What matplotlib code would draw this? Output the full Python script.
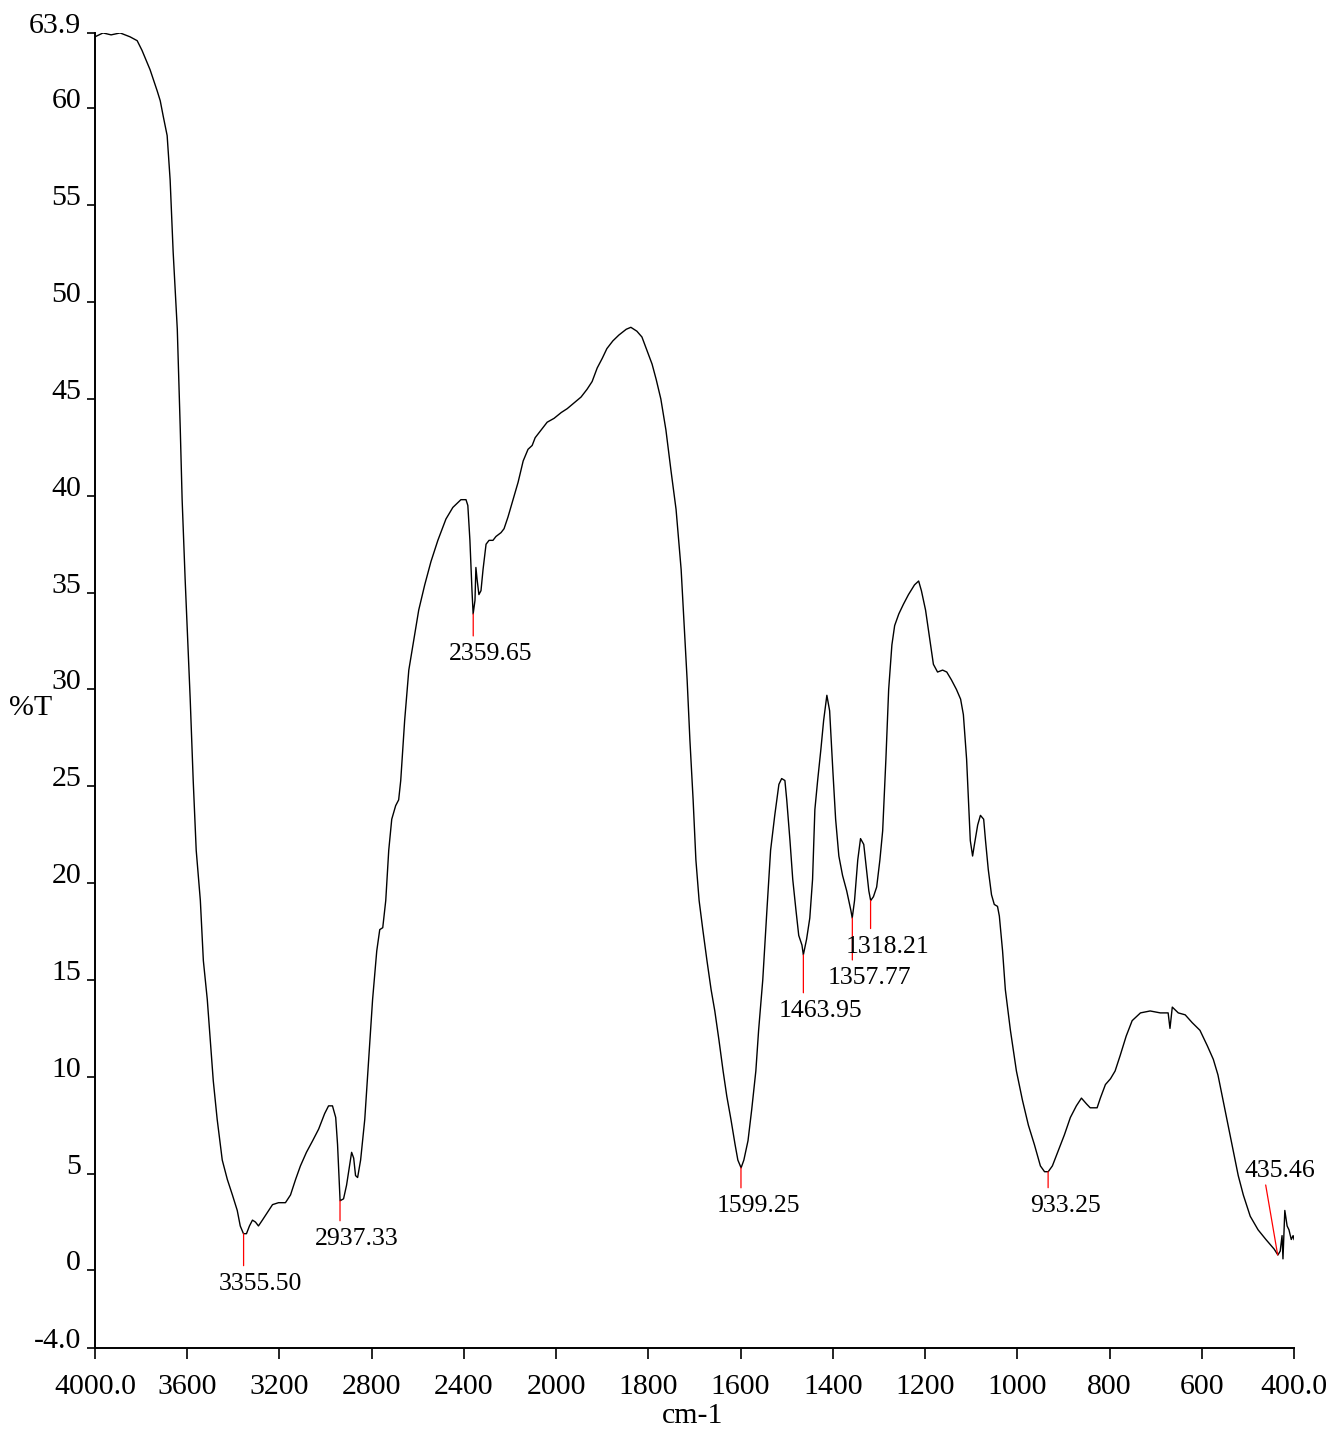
import numpy as np
import matplotlib
matplotlib.use("Agg")
import matplotlib.pyplot as plt

# FT-IR spectrum, values
wavenumber = [
    4000, 3965, 3930, 3891, 3848, 3817, 3796, 3761, 3730, 3717, 3704, 3687, 3674,
    3661, 3643, 3630, 3622, 3609, 3596, 3587, 3574, 3561, 3543, 3530, 3513,
    3500, 3487, 3470, 3448, 3426, 3404, 3383, 3370, 3356, 3343, 3330, 3317,
    3304, 3291, 3274, 3252, 3230, 3204, 3174, 3152, 3130, 3109, 3083, 3056,
    3030, 3004, 2987, 2970, 2956, 2948, 2941, 2937, 2922, 2909, 2896, 2887,
    2878, 2870, 2861, 2848, 2830, 2813, 2796, 2778, 2765, 2752, 2739, 2726,
    2713, 2696, 2683, 2674, 2657, 2639, 2617, 2596, 2570, 2543, 2513, 2478,
    2448, 2413, 2391, 2383, 2374, 2365, 2360, 2352, 2348, 2343, 2335, 2326,
    2317, 2304, 2291, 2274, 2261, 2239, 2226, 2209, 2187, 2165, 2143, 2122,
    2104, 2091, 2065, 2039, 2009, 1989, 1976, 1961, 1946, 1933, 1922, 1911,
    1900, 1890, 1877, 1864, 1848, 1838, 1825, 1814, 1803, 1792, 1783, 1773,
    1762, 1751, 1740, 1729, 1723, 1716, 1710, 1703, 1697, 1690, 1682, 1673,
    1664, 1656, 1647, 1638, 1630, 1621, 1612, 1606, 1599, 1593, 1584, 1576,
    1567, 1561, 1552, 1543, 1535, 1526, 1517, 1511, 1504, 1500, 1493, 1487,
    1480, 1474, 1467, 1464, 1457, 1450, 1444, 1439, 1433, 1426, 1420, 1413,
    1407, 1400, 1394, 1387, 1379, 1370, 1361, 1358, 1353, 1346, 1340, 1333,
    1327, 1322, 1318, 1312, 1305, 1298, 1292, 1285, 1279, 1272, 1266, 1257,
    1247, 1236, 1223, 1214, 1208, 1199, 1190, 1182, 1173, 1162, 1153, 1143,
    1132, 1123, 1117, 1110, 1106, 1102, 1097, 1093, 1086, 1080, 1073, 1069,
    1063, 1056, 1050, 1043, 1039, 1032, 1026, 1015, 1002, 989, 976, 963,
    950, 941, 933, 924, 911, 898, 885, 872, 861, 850, 842, 827,
    820, 809, 798, 788, 777, 764, 751, 733, 712, 690, 673, 669,
    664, 651, 636, 621, 604, 588, 575, 565, 554, 543, 532, 521,
    510, 495, 478, 461, 443, 435, 430, 426, 424, 420, 415, 411,
    406, 402, 400,
]
transmittance = [
    63.7, 63.9, 63.8, 63.9, 63.7, 63.5, 63.0, 62.0, 60.9, 60.4, 59.6, 58.6, 56.3,
    52.6, 48.6, 43.4, 39.8, 35.7, 32.0, 29.5, 25.3, 21.7, 19.1, 16.0, 14.0,
    11.9, 9.8, 7.8, 5.7, 4.7, 3.9, 3.1, 2.3, 1.9, 1.9, 2.3, 2.6,
    2.5, 2.3, 2.6, 3.0, 3.4, 3.5, 3.5, 3.9, 4.7, 5.4, 6.1, 6.7,
    7.3, 8.1, 8.5, 8.5, 7.9, 6.5, 4.7, 3.6, 3.7, 4.4, 5.4, 6.1,
    5.8, 4.9, 4.8, 5.7, 7.8, 10.9, 14.0, 16.5, 17.6, 17.7, 19.1, 21.7,
    23.3, 24.0, 24.3, 25.3, 28.4, 31.0, 32.6, 34.1, 35.4, 36.6, 37.7, 38.8,
    39.4, 39.8, 39.8, 39.5, 37.7, 35.1, 33.9, 34.6, 36.3, 35.7, 34.9, 35.1,
    36.2, 37.5, 37.7, 37.7, 37.9, 38.1, 38.3, 38.9, 39.8, 40.7, 41.8, 42.4,
    42.6, 43.0, 43.4, 43.8, 44.0, 44.3, 44.5, 44.8, 45.1, 45.5, 45.9, 46.6,
    47.1, 47.6, 48.0, 48.3, 48.6, 48.7, 48.5, 48.2, 47.5, 46.8, 46.0, 45.0,
    43.4, 41.3, 39.3, 36.2, 33.6, 30.5, 27.4, 24.3, 21.2, 19.1, 17.6, 16.0,
    14.5, 13.4, 11.9, 10.3, 9.0, 7.8, 6.5, 5.7, 5.3, 5.7, 6.7, 8.3,
    10.3, 12.4, 15.0, 18.6, 21.7, 23.5, 25.1, 25.4, 25.3, 24.3, 22.2, 20.2,
    18.6, 17.3, 16.8, 16.3, 17.1, 18.2, 20.2, 23.8, 25.3, 26.9, 28.4, 29.7,
    28.9, 25.8, 23.3, 21.4, 20.4, 19.6, 18.6, 18.2, 19.1, 21.2, 22.3, 22.0,
    20.7, 19.6, 19.1, 19.3, 19.8, 21.2, 22.7, 26.4, 30.0, 32.3, 33.3, 33.9,
    34.4, 34.9, 35.4, 35.6, 35.1, 34.1, 32.6, 31.3, 30.9, 31.0, 30.9, 30.5,
    30.0, 29.5, 28.7, 26.4, 24.3, 22.2, 21.4, 22.0, 23.0, 23.5, 23.3, 22.2,
    20.7, 19.4, 18.9, 18.8, 18.3, 16.5, 14.5, 12.4, 10.3, 8.8, 7.5, 6.5,
    5.4, 5.1, 5.1, 5.4, 6.2, 7.0, 7.9, 8.5, 8.9, 8.6, 8.4, 8.4,
    8.9, 9.6, 9.9, 10.3, 11.1, 12.1, 12.9, 13.3, 13.4, 13.3, 13.3, 12.5,
    13.6, 13.3, 13.2, 12.8, 12.4, 11.6, 10.9, 10.1, 8.8, 7.5, 6.2, 4.9,
    3.9, 2.8, 2.1, 1.6, 1.1, 0.8, 1.0, 1.8, 0.6, 3.1, 2.3, 2.1,
    1.6, 1.8, 1.6,
]

# picked peaks
peak_wn = [3355.50, 2937.33, 2359.65, 1599.25, 1463.95, 1357.77, 1318.21, 933.25]
peak_t = [1.9, 3.6, 33.9, 5.3, 16.3, 18.2, 19.1, 5.1]
peak_labels = ["3355.50", "2937.33", "2359.65", "1599.25", "1463.95",
               "1357.77", "1318.21", "933.25"]
last_peak_wn, last_peak_t, last_peak_label = 435.46, 0.8, "435.46"

xticks = [4000, 3600, 3200, 2800, 2400, 2000, 1800, 1600, 1400, 1200, 1000, 800, 600, 400]
xticklabels = ["4000.0", "3600", "3200", "2800", "2400", "2000", "1800", "1600",
               "1400", "1200", "1000", "800", "600", "400.0"]
yticks = [63.9, 60, 55, 50, 45, 40, 35, 30, 25, 20, 15, 10, 5, 0, -4.0]
yticklabels = ["63.9", "60", "55", "50", "45", "40", "35", "30", "25", "20",
               "15", "10", "5", "0", "-4.0"]

# length of each red drop line, in pixels
drops = [32, 20, 22, 20, 38, 42, 28, 16]


# spectrometer-style axis: above 2000 cm-1 the scale is halved
def fwd(x):
    x = np.asarray(x, dtype=float)
    return np.where(x > 2000, 2000 + (x - 2000) / 2, x)


def inv(u):
    u = np.asarray(u, dtype=float)
    return np.where(u > 2000, 2000 + (u - 2000) * 2, u)


plt.rcParams["font.family"] = ["Liberation Serif", "DejaVu Serif"]

fig = plt.figure(figsize=(13.32, 14.32), dpi=100)
ax = fig.add_axes([0.0713, 0.0587, 0.9002, 0.9183])

ax.plot(wavenumber, transmittance, color="black", lw=1.0)

ax.set_xscale("function", functions=(fwd, inv))
ax.set_xlim(4000, 400)
ax.set_ylim(-4.0, 63.9)

for wn, t, lab, d in zip(peak_wn, peak_t, peak_labels, drops):
    ax.annotate("", xy=(wn, t), xytext=(0, -d), textcoords="offset pixels",
                arrowprops=dict(arrowstyle="-", color="red", lw=0.9,
                                shrinkA=0, shrinkB=0))
    ax.annotate(lab, xy=(wn, t), xytext=(17, -d - 18), textcoords="offset pixels",
                ha="center", va="center", fontsize=18.5)

ax.annotate("", xy=(last_peak_wn, last_peak_t), xytext=(-12, 70),
            textcoords="offset pixels",
            arrowprops=dict(arrowstyle="-", color="red", lw=0.9,
                            shrinkA=0, shrinkB=0))
ax.annotate(last_peak_label, xy=(last_peak_wn, last_peak_t), xytext=(2, 84),
            textcoords="offset pixels", ha="center", va="center", fontsize=18.5)

ax.set_xticks(xticks)
ax.set_xticklabels(xticklabels)
ax.set_yticks(yticks)
ax.set_yticklabels(yticklabels)
ax.minorticks_off()
for lbl in ax.get_yticklabels():
    lbl.set_verticalalignment("baseline")

ax.tick_params(axis="both", direction="out", labelsize=21.5, width=1.2)
ax.tick_params(axis="y", length=6, pad=4)
ax.tick_params(axis="x", length=8, pad=11)

for side in ["top", "right"]:
    ax.spines[side].set_visible(False)
for side in ["left", "bottom"]:
    ax.spines[side].set_linewidth(1.4)

ax.set_xlabel("cm-1", fontsize=21.5, va="center")
ax.xaxis.set_label_coords(0.498, -0.052)
ax.set_ylabel("%T", fontsize=21.5, rotation=0, ha="center", va="center")
ax.yaxis.set_label_coords(-0.054, 0.487)

fig.savefig("out.png", dpi=100)
